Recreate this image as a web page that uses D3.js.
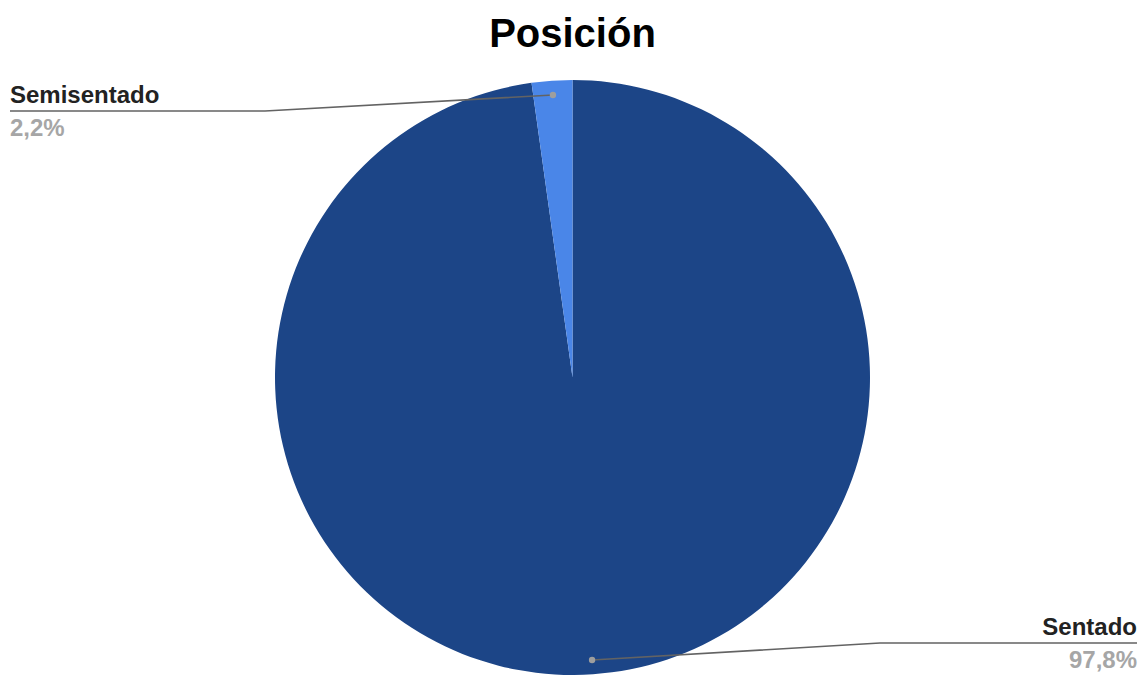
<!DOCTYPE html>
<html>
<head>
<meta charset="utf-8">
<script src="https://cdn.jsdelivr.net/npm/d3@7"></script>
<style>
  html, body { margin: 0; padding: 0; background: #fff; }
  svg { display: block; font-family: "Liberation Sans", Arial, sans-serif; }
</style>
</head>
<body>
<svg id="chart" width="1145" height="675"></svg>
<script>
const title = "Posición";
const categories = ["Sentado", "Semisentado"];
const values = [97.8, 2.2];
const valueLabels = ["97,8%", "2,2%"];
const colors = ["#1c4587", "#4a86e8"];

const W = 1145, H = 675;
const cx = 572.5, cy = 377.5, R = 297.5;

const svg = d3.select("#chart");

svg.append("text")
  .attr("x", cx).attr("y", 47)
  .attr("text-anchor", "middle")
  .attr("font-size", 40).attr("font-weight", "bold")
  .attr("fill", "#000")
  .text(title);

const data = categories.map((c, i) => ({ name: c, value: values[i], label: valueLabels[i], color: colors[i] }));

const pie = d3.pie().value(d => d.value).sort(null);
const arcs = pie(data);
const arc = d3.arc().innerRadius(0).outerRadius(R);
const dotArc = d3.arc().innerRadius(R * 0.952).outerRadius(R * 0.952);

const g = svg.append("g").attr("transform", `translate(${cx},${cy})`);

g.selectAll("path.slice").data(arcs).enter().append("path")
  .attr("class", "slice")
  .attr("d", arc)
  .attr("fill", d => d.data.color);

// Leader lines: from a dot inside the slice to a bend, then along the label underline
const labelSide = { "Sentado": { x: 1137, underline: 643, bendX: 880, anchor: "end" },
                    "Semisentado": { x: 10, underline: 111, bendX: 265, anchor: "start" } };

arcs.forEach(a => {
  const s = labelSide[a.data.name];
  const [dx, dy] = dotArc.centroid(a);
  const px = cx + dx, py = cy + dy;
  svg.append("polyline")
    .attr("points", [[px, py], [s.bendX, s.underline], [s.x, s.underline]].map(p => p.join(",")).join(" "))
    .attr("fill", "none").attr("stroke", "#636363").attr("stroke-width", 1.6);
  svg.append("circle").attr("cx", px).attr("cy", py).attr("r", 3.2).attr("fill", "#9e9e9e");
  svg.append("text")
    .attr("x", s.x).attr("y", s.underline - 8)
    .attr("text-anchor", s.anchor)
    .attr("font-size", 24).attr("font-weight", "bold").attr("fill", "#222")
    .text(a.data.name);
  svg.append("text")
    .attr("x", s.x).attr("y", s.underline + 25)
    .attr("text-anchor", s.anchor)
    .attr("font-size", 24).attr("font-weight", "bold").attr("fill", "#a6a6a6")
    .text(a.data.label);
});
</script>
</body>
</html>
